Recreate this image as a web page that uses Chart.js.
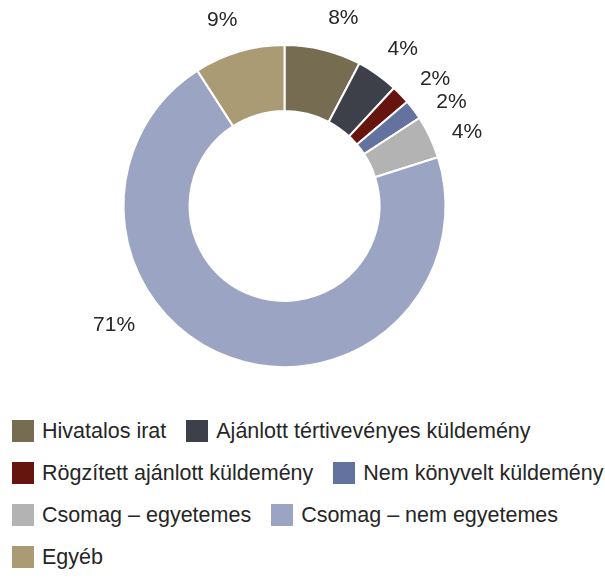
<!DOCTYPE html>
<html>
<head>
<meta charset="utf-8">
<script src="https://cdn.jsdelivr.net/npm/chart.js@4"></script>
<style>
  html, body { margin: 0; padding: 0; background: #fff; overflow: hidden; }
  body { width: 605px; height: 578px; position: relative; font-family: "Liberation Sans", Arial, sans-serif; }
  #wrap { position: absolute; left: 0; top: 0; width: 605px; height: 410px; }
  #legend { position: absolute; left: 12px; top: 420px; width: 600px; display: flex; flex-wrap: wrap; column-gap: 20px; row-gap: 20px; }
  .item { display: flex; align-items: center; height: 22px; white-space: nowrap; color: #262626; font-size: 21.5px; }
  .box { width: 22px; height: 22px; margin-right: 8px; flex: none; }
</style>
</head>
<body>
<div id="wrap"><canvas id="c"></canvas></div>
<div id="legend"></div>
<script>
// categories and shares (percent)
const categories = [
  'Hivatalos irat',
  'Ajánlott tértivevényes küldemény',
  'Rögzített ajánlott küldemény',
  'Nem könyvelt küldemény',
  'Csomag – egyetemes',
  'Csomag – nem egyetemes',
  'Egyéb',
];
const shares = [7.7, 4.2, 1.9, 2.0, 4.3, 70.8, 9.1];
const colors = ['#766c52', '#3d3f49', '#66140e', '#63729e', '#b3b3b3', '#9ba4c3', '#aa9b75'];

// small angular nudges (deg) for the outside labels, the big slice's label sits off to the left
const labelNudge = [3.5, 1.5, 3.5, 4.5, 3, 35.5, -2];

const outsideLabels = {
  id: 'outsideLabels',
  afterDatasetsDraw(chart) {
    const ctx = chart.ctx;
    const meta = chart.getDatasetMeta(0);
    ctx.save();
    ctx.font = '21px "Liberation Sans", Arial, sans-serif';
    ctx.fillStyle = '#262626';
    ctx.textAlign = 'center';
    ctx.textBaseline = 'middle';
    meta.data.forEach((arc, i) => {
      const p = arc.getProps(['x', 'y', 'startAngle', 'endAngle', 'outerRadius'], true);
      const txt = Math.round(chart.data.datasets[0].data[i]) + '%';
      const w = ctx.measureText(txt).width;
      const a = (p.startAngle + p.endAngle) / 2 + labelNudge[i] * Math.PI / 180;
      const r = p.outerRadius + 36 + Math.max(0, w - 30) * 0.85;
      ctx.fillText(txt, p.x + Math.cos(a) * r, p.y + Math.sin(a) * r + 1);
    });
    ctx.restore();
  }
};

new Chart(document.getElementById('c').getContext('2d'), {
  type: 'doughnut',
  data: {
    labels: categories,
    datasets: [{
      data: shares,
      backgroundColor: colors,
      borderColor: '#ffffff',
      borderWidth: 2,
    }],
  },
  options: {
    responsive: true,
    maintainAspectRatio: false,
    animation: false,
    cutout: '59%',
    layout: { padding: { top: 44, bottom: 42, left: 0, right: 36 } },
    plugins: { legend: { display: false }, tooltip: { enabled: false } },
  },
  plugins: [outsideLabels],
});

// html legend, rows left aligned like the original
const legend = document.getElementById('legend');
categories.forEach((name, i) => {
  const el = document.createElement('div');
  el.className = 'item';
  el.innerHTML = '<span class="box" style="background:' + colors[i] + '"></span><span>' + name + '</span>';
  legend.appendChild(el);
});
</script>
</body>
</html>
